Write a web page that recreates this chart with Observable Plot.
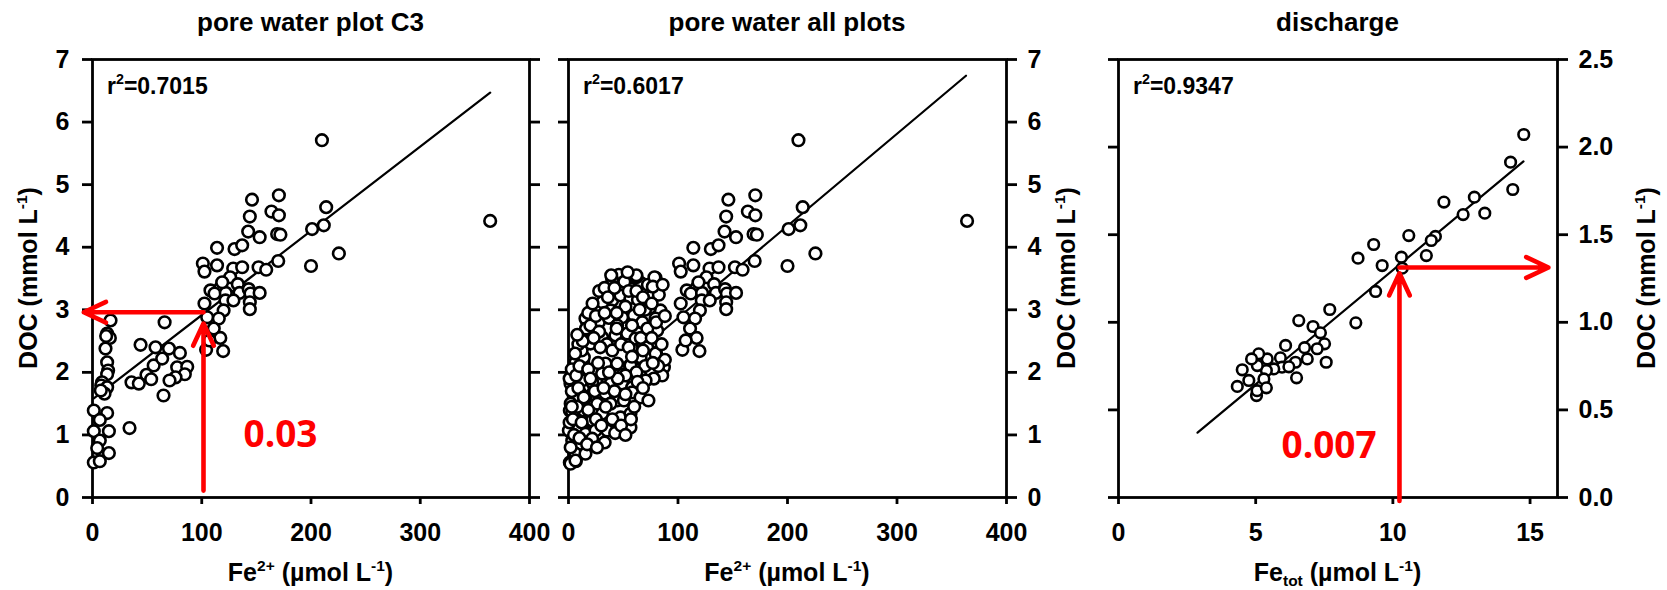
<!DOCTYPE html>
<html><head><meta charset="utf-8">
<script src="https://cdn.jsdelivr.net/npm/d3@7"></script>
<script src="https://cdn.jsdelivr.net/npm/@observablehq/plot@0.6"></script>
<style>
body{margin:0;background:#fff;}
#chart{position:relative;width:1667px;height:590px;overflow:hidden;background:#fff;}
#chart svg{position:absolute;top:0;}
</style></head><body><div id="chart"></div>
<script>
// ---------- data ----------
// Panel 1: pore water plot C3  (Fe2+ µmol/L, DOC mmol/L)
const c3Fe  = [210,146,170.6,144,163.8,170.6,213.9,142.5,153,169,172,201,211.7,225.5,200,364,114,130,137,101,102.5,114,128.8,137,152,159,170,126,133,108,117,111.7,122,134.6,143,144.6,153,102.5,121.7,129,144,144,120,105,115.6,111,117,104,119.6,107,118.7,
  66,44,57.7,70,80,56,63.8,77.5,86.7,84.5,76,70.5,49.4,53.7,35.7,42.4,65,33.9,
  16.5,13.4,15.9,12.5,11.9,13.4,14.3,13.4,8.8,8,13.4,11,7.6,1.2,13.4,6.7,1.2,15,6.7,4.3,15,1.2,6.7];
const c3Doc = [5.71,4.76,4.83,4.49,4.57,4.51,4.64,4.25,4.16,4.21,4.20,4.29,4.35,3.90,3.70,4.42,3.99,3.97,4.03,3.74,3.61,3.71,3.66,3.68,3.68,3.64,3.78,3.52,3.41,3.31,3.35,3.26,3.27,3.27,3.33,3.26,3.27,3.10,3.15,3.15,3.12,3.01,2.99,2.88,2.86,2.70,2.55,2.36,2.34,2.51,3.44,
  2.80,2.44,2.40,2.38,2.31,2.11,2.22,2.08,2.09,1.97,1.92,1.87,1.96,1.89,1.84,1.82,1.63,1.11,
  2.83,2.62,2.55,2.58,2.38,2.16,2.03,1.97,1.84,1.79,1.76,1.66,1.71,1.39,1.35,1.24,1.06,1.06,0.91,0.79,0.71,0.56,0.58];
// Panel 2 = plot C3 plus the other plots
const otherFe  = [46,39.9,59.7,65.8,79.5,72.5,47.5,79.5,30.7,39.9,47.5,56.6,63.4,74.9,82.5,84,74.3,49,38.4,26.2,15.5,27.7,36.8,44.4,59.7,67.4,79.5,81,11,20.1,30.7,42.9,53.6,61.2,71.9,79.5,6.4,14,21.6,33.8,44.4,56.6,65.8,74.9,87.1,85.6,77.9,1.8,6.4,12.5,21.6,30.7,38.4,49,58.2,64.4,70.4,4.9,15.5,26.2,33.8,44.4,50.6,58.2,65.8,3.4,14,21.6,30.7,38.4,47.5,56.6,0.3,9.4,15.5,24.7,35.3,44.4,56.6,3.4,11,21.6,42.6,6.4,15.5,1.8,6.4,39,62,78.5,77,31,
  1,2,3,1,4,2,5,8,9,3,7,10,12,9,16,13,18,20,22,25,28,33,36,42,51,55,62,68,70,65,52,44,33,28,23,35,40,48,55,66,72,76,85,88,82,70,62,52,45,37,27,18,24,18,12,10,17,25,30,40,34,42,52,60,63,68,73,48,33,26,52,57,14,20,8,6,3,58,32,29,44,58,68,77,80,76,62,54,86,88];
const otherDoc = [3.56,3.48,3.51,3.43,3.51,3.40,3.37,3.37,3.12,3.15,3.23,3.19,3.16,3.20,3.24,2.99,3.03,2.88,2.99,3.07,2.86,2.80,2.87,2.75,2.91,2.80,2.86,2.67,2.59,2.46,2.56,2.59,2.62,2.54,2.40,2.30,2.16,2.24,2.03,2.14,2.14,2.11,2.24,2.03,2.08,1.95,1.90,1.82,1.79,1.87,1.84,1.98,1.82,1.82,1.76,1.66,1.87,1.60,1.60,1.50,1.66,1.55,1.55,1.68,1.60,1.36,1.39,1.23,1.34,1.50,1.28,1.34,1.07,1.12,1.02,1.07,1.07,1.07,1.12,0.91,0.86,0.94,1.03,0.70,0.70,0.54,0.59,3.55,3.52,3.52,3.37,3.12,
  1.2,1.5,1.7,1.9,1.25,0.8,1.0,1.45,1.75,2.05,1.95,2.1,2.35,2.45,2.7,2.5,2.95,2.75,3.1,2.9,3.3,3.35,3.2,3.35,3.45,3.3,3.3,3.2,3.0,3.0,3.05,2.95,2.95,2.65,2.55,2.45,2.35,2.45,2.4,2.55,2.7,2.55,2.45,2.2,2.1,2.1,2.0,1.95,1.9,2.0,2.15,2.05,1.7,1.4,1.2,0.95,0.85,1.25,1.15,1.25,1.45,1.7,1.65,1.45,1.85,1.75,1.55,1.15,0.88,0.8,1.0,1.25,1.6,1.9,2.6,2.3,1.45,2.25,1.75,2.4,2.7,2.75,2.35,2.15,2.8,3.1,3.55,3.6,3.4,2.9];
// Panel 3: discharge (Fe_tot µmol/L, DOC mmol/L)
const disFe  = [14.77,14.29,14.37,11.86,12.97,12.56,13.35,11.55,11.40,11.22,10.58,10.31,10.34,9.61,9.30,8.73,9.37,8.65,7.70,6.57,7.09,7.36,7.51,7.24,7.57,6.78,6.88,6.49,6.45,6.09,5.90,5.96,6.21,5.42,5.66,5.11,5.39,5.30,5.06,4.75,4.51,4.33,5.03,5.05,5.39,4.85];
const disDoc = [2.072,1.914,1.758,1.686,1.714,1.615,1.623,1.490,1.467,1.381,1.495,1.372,1.309,1.324,1.444,1.366,1.176,0.997,1.073,1.010,0.976,0.940,0.877,0.849,0.772,0.855,0.791,0.683,0.772,0.868,0.797,0.744,0.746,0.791,0.734,0.820,0.725,0.677,0.753,0.668,0.729,0.634,0.582,0.610,0.626,0.791];
// regression line end points
const c3FitFe = [1.2, 364],   c3FitDoc = [1.585, 6.47];
const allFitFe = [1, 363],    allFitDoc = [1.41, 6.74];
const disFitFe = [2.88, 14.76], disFitDoc = [0.37, 1.918];
// tick values
const feTicks = [0, 100, 200, 300, 400];
const docTicks = [0, 1, 2, 3, 4, 5, 6, 7];
const feTotTicks = [0, 5, 10, 15];
const disDocTicks = [0, 0.5, 1, 1.5, 2, 2.5];
// annotations (data units)
const c3Arrows = [{x1:101.6,y1:0.11,x2:101.6,y2:2.78},{x1:101.6,y1:2.96,x2:-8,y2:2.96}];
const disArrows = [{x1:10.24,y1:-0.02,x2:10.24,y2:1.28},{x1:10.24,y1:1.313,x2:15.67,y2:1.313}];
const c3Note = [{x:138.2,y:0.80,text:"0.03"}];
const disNote = [{x:5.94,y:0.223,text:"0.007"}];
const titles = ["pore water plot C3", "pore water all plots", "discharge"];
const r2 = ["=0.7015", "=0.6017", "=0.9347"];

// ---------- drawing ----------
const FONT = "'Liberation Sans', Arial, Helvetica, sans-serif";
const RED = "#ff0000";
const chart = document.getElementById("chart");
const toPts = (xs, ys) => xs.map((v, i) => ({x: v, y: ys[i]}));

function rich(svg, x, y, parts, {size = 25, rotate = 0, anchor = "middle"} = {}) {
  const t = d3.select(svg).append("text")
    .attr("text-anchor", anchor).attr("font-family", FONT).attr("font-weight", "bold")
    .attr("font-size", size).attr("fill", "#000")
    .attr("transform", `translate(${x},${y})` + (rotate ? ` rotate(${rotate})` : ""));
  let shift = 0;
  for (const [s, kind] of parts) {
    const target = kind === "sup" ? -0.42 * size : kind === "sub" ? 0.2 * size : 0;
    t.append("tspan").attr("dy", target - shift).attr("font-size", kind ? size * 0.62 : size).text(s);
    shift = target;
  }
}

function panel(cfg) {
  const fmt = cfg.yFmt || (d => String(d));
  const svg = Plot.plot({
    width: cfg.width, height: 590,
    marginLeft: cfg.ml, marginRight: cfg.mr, marginTop: 59, marginBottom: 93,
    x: {domain: cfg.xDomain}, y: {domain: cfg.yDomain},
    style: {fontFamily: FONT, fontSize: "25px", fontWeight: "bold", background: "transparent", color: "#000", overflow: "visible"},
    marks: [
      Plot.axisX(cfg.xTicks, {anchor: "bottom", tickSize: 7, tickPadding: 19, strokeWidth: 2.8, label: null, fontSize: 25, fontWeight: "bold"}),
      Plot.axisY(cfg.yTicks, {anchor: "left", tickSize: 10, tickPadding: 13, strokeWidth: 2.8, label: null, fontSize: 25, fontWeight: "bold",
        tickFormat: cfg.ySide === "left" ? fmt : () => ""}),
      Plot.axisY(cfg.yTicks, {anchor: "right", tickSize: 10, tickPadding: 11, strokeWidth: 2.8, label: null, fontSize: 25, fontWeight: "bold",
        tickFormat: cfg.ySide === "right" ? fmt : () => ""}),
      Plot.frame({stroke: "#000", strokeWidth: 2.8}),
      Plot.line(cfg.fit, {x: "x", y: "y", stroke: "#000", strokeWidth: 2.2}),
      Plot.dot(cfg.points, {x: "x", y: "y", r: cfg.r, fill: "#fff", stroke: "#000", strokeWidth: 2.6}),
      Plot.arrow(cfg.arrows || [], {x1: "x1", y1: "y1", x2: "x2", y2: "y2", stroke: RED, strokeWidth: 4.6, headAngle: 50, headLength: 8}),
      Plot.text(cfg.notes || [], {x: "x", y: "y", text: "text", fill: RED, fontSize: 37,
        fontFamily: "'Open Sans', sans-serif", fontWeight: "bold", textAnchor: "start", lineAnchor: "bottom"})
    ]
  });
  svg.style.left = cfg.left + "px";
  const cx = cfg.ml + (cfg.width - cfg.ml - cfg.mr) / 2;
  rich(svg, cx, 31, [[cfg.title]], {size: 26});
  rich(svg, cfg.ml + 15, 94, [["r"], ["2", "sup"], [cfg.r2]], {size: 23, anchor: "start"});
  rich(svg, cx, 581, cfg.xLabel, {size: 25});
  rich(svg, cfg.yLabelX - cfg.left, 278, [["DOC (mmol L"], ["-1", "sup"], [")"]], {size: 25, rotate: -90});
  chart.appendChild(svg);
}

const feLabel = [["Fe"], ["2+", "sup"], [" (µmol L"], ["-1", "sup"], [")"]];
const feTotLabel = [["Fe"], ["tot", "sub"], [" (µmol L"], ["-1", "sup"], [")"]];

panel({left: 0, width: 548, ml: 92, mr: 19, xDomain: [0, 400], yDomain: [0, 7],
  xTicks: feTicks, yTicks: docTicks, ySide: "left", yLabelX: 37,
  points: toPts(c3Fe, c3Doc), fit: toPts(c3FitFe, c3FitDoc), r: 5.8,
  arrows: c3Arrows, notes: c3Note, title: titles[0], r2: r2[0], xLabel: feLabel});

panel({left: 548, width: 552, ml: 20, mr: 94, xDomain: [0, 400], yDomain: [0, 7],
  xTicks: feTicks, yTicks: docTicks, ySide: "right", yLabelX: 1075,
  points: toPts(c3Fe.concat(otherFe), c3Doc.concat(otherDoc)), fit: toPts(allFitFe, allFitDoc), r: 5.8,
  title: titles[1], r2: r2[1], xLabel: feLabel});

panel({left: 1100, width: 567, ml: 18, mr: 110, xDomain: [0, 16], yDomain: [0, 2.5],
  xTicks: feTotTicks, yTicks: disDocTicks, ySide: "right", yLabelX: 1655, yFmt: d3.format(".1f"),
  points: toPts(disFe, disDoc), fit: toPts(disFitFe, disFitDoc), r: 5.3,
  arrows: disArrows, notes: disNote, title: titles[2], r2: r2[2], xLabel: feTotLabel});
</script></body></html>
